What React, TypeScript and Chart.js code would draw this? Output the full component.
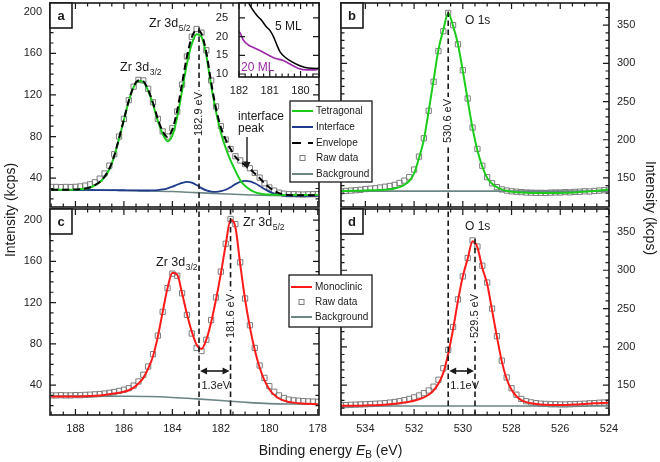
import React, { useEffect, useRef } from 'react';
import { Chart, registerables } from 'chart.js';

Chart.register(...registerables);

const W = 660;
const H = 462;
const FONT = "'Liberation Sans', Arial, Helvetica, sans-serif";
const INK = '#1a1a1a';

// ---------------- data ----------------
const zrEnergy = [
  189.0, 188.8, 188.6, 188.4, 188.2, 188.0, 187.8, 187.6, 187.4, 187.2,
  187.0, 186.8, 186.6, 186.4, 186.2, 186.0, 185.8, 185.6, 185.4, 185.2,
  185.0, 184.8, 184.6, 184.4, 184.2, 184.0, 183.8, 183.6, 183.4, 183.2,
  183.0, 182.8, 182.6, 182.4, 182.2, 182.0, 181.8, 181.6, 181.4, 181.2,
  181.0, 180.8, 180.6, 180.4, 180.2, 180.0, 179.8, 179.6, 179.4, 179.2,
  179.0, 178.8, 178.6, 178.4, 178.2, 178.0,
];
const oEnergy = [
  535.0, 534.8, 534.6, 534.4, 534.2, 534.0, 533.8, 533.6, 533.4, 533.2,
  533.0, 532.8, 532.6, 532.4, 532.2, 532.0, 531.8, 531.6, 531.4, 531.2,
  531.0, 530.8, 530.6, 530.4, 530.2, 530.0, 529.8, 529.6, 529.4, 529.2,
  529.0, 528.8, 528.6, 528.4, 528.2, 528.0, 527.8, 527.6, 527.4, 527.2,
  527.0, 526.8, 526.6, 526.4, 526.2, 526.0, 525.8, 525.6, 525.4, 525.2,
  525.0, 524.8, 524.6, 524.4, 524.2, 524.0,
];

// panel a (tetragonal Zr 3d)
const aRaw = [
  31.5, 31.5, 31.3, 31.5, 31.4, 31.6, 32, 32.8, 34, 36,
  39.5, 44.5, 52, 63, 80, 97, 115, 128, 134.5, 134,
  126, 113, 97, 85, 80, 88, 104, 130, 157, 176,
  183.5, 180, 163, 134, 109, 90, 77, 68, 61, 57,
  53.5, 49.5, 45, 40.5, 35, 31, 28, 26, 25, 24.5,
  24.5, 24.3, 24.2, 24.4, 24.5, 24.6,
];
const aTetragonal = [
  28.8, 28.8, 28.8, 28.8, 28.8, 28.9, 29.2, 29.8, 31, 33,
  36, 41, 48.5, 61, 78, 96, 114, 127.5, 133.5, 132.5,
  124, 111, 95, 82.5, 75.5, 81, 99, 124, 150, 169,
  178.5, 176, 158, 129, 104, 84, 69, 57, 47, 38,
  32.5, 29, 26.5, 25.2, 24.5, 24.2, 24, 23.9, 23.8, 23.8,
  23.7, 23.7, 23.7, 23.7, 23.7, 23.7,
];
const aInterface = [
  28.6, 28.6, 28.6, 28.6, 28.6, 28.6, 28.6, 28.6, 28.6, 28.5,
  28.5, 28.5, 28.4, 28.4, 28.3, 28.3, 28.2, 28.2, 28.1, 28.1,
  28.1, 28.2, 28.5, 29.1, 30.2, 31.8, 33.7, 35.4, 36.3, 35.6,
  33.3, 30.4, 28.2, 27.1, 26.8, 27.4, 28.8, 31.2, 34.2, 36.4,
  37.3, 36.8, 35, 32.5, 29.5, 27, 25, 23.8, 23.2, 23,
  22.9, 22.9, 22.9, 22.9, 22.9, 22.9,
];
const aEnvelope = [
  28.9, 28.9, 28.9, 28.9, 28.9, 29, 29.3, 29.9, 31.1, 33.2,
  36.3, 41.3, 49, 61.5, 78.5, 96.5, 114.5, 128, 134, 133,
  125, 112.5, 97, 85, 79.5, 87, 105, 131, 157, 175.5,
  182.5, 179, 161, 132, 107, 89, 77, 68, 60.5, 56,
  52.5, 49, 44.5, 40, 35, 31, 27.8, 25.5, 24.3, 23.8,
  23.6, 23.5, 23.5, 23.5, 23.5, 23.5,
];
const aBgEnergy = [189, 187, 186, 185, 184, 183, 182, 181, 180, 179, 178];
const aBackground = [28.5, 28.3, 28.1, 27.7, 27.1, 26.0, 25.0, 24.0, 23.3, 23.0, 22.9];

// panel c (monoclinic Zr 3d)
const cRaw = [
  30, 30, 30.2, 30, 30, 30.3, 30.2, 30.5, 30.7, 31,
  31.3, 31.8, 32.5, 33.3, 34.3, 35.5, 37, 39.5, 43.5, 50,
  58, 70, 88, 111, 134, 148, 146, 129, 108, 90,
  76, 73, 84, 103, 125, 150, 177, 201, 196, 159,
  124, 98, 76, 59, 47, 39, 33.5, 30, 27.5, 26,
  25.2, 24.8, 24.4, 24.2, 24, 23.8,
];
const cMonoclinic = [
  29, 29, 29, 29, 29, 29, 29, 29.1, 29.3, 29.6,
  30, 30.5, 31.1, 31.8, 32.6, 33.6, 35, 37.5, 41.5, 47,
  56, 68, 87, 111, 134, 149, 147, 129, 109, 92,
  79, 75, 84, 101, 123, 148, 176, 200, 193, 157,
  123, 96, 74, 57, 44.5, 36, 30.5, 27, 25, 23.7,
  23, 22.5, 22.1, 21.8, 21.6, 21.5,
];
const cBgEnergy = [189, 187, 186, 185, 184, 183, 182, 181, 180, 179, 178];
const cBackground = [29.3, 29.3, 29.2, 28.9, 28.0, 26.6, 25.0, 23.3, 22.0, 21.6, 21.4];

// panel b (tetragonal O 1s)
const bRaw = [
  132.5, 133, 133.5, 134, 134.5, 135.5, 136, 136.5, 137.5, 138.5,
  139.5, 141, 143.5, 146.5, 151, 161, 178, 202, 238, 276,
  316, 342, 366, 350, 325, 291, 254, 216, 188, 166,
  151, 143, 138, 135, 133.5, 132.5, 132, 131.5, 131, 130.8,
  130.5, 130.6, 130.4, 130.8, 131, 131, 131.5, 131.2, 131.8, 132,
  132.5, 132.3, 133, 133.5, 134, 134.5,
];
const bTetragonal = [
  133, 133.1, 133.2, 133.3, 133.4, 133.6, 133.8, 134, 134.3, 134.7,
  135.3, 136.3, 138, 141, 146, 156, 176, 200, 238, 278,
  318, 344, 366, 349, 325, 290, 252, 215, 186, 165,
  150, 142.5, 138, 135, 133.2, 132, 131.3, 130.9, 130.6, 130.4,
  130.3, 130.2, 130.2, 130.2, 130.3, 130.4, 130.6, 130.8, 131.1, 131.5,
  132, 132.5, 133, 133.6, 134.2, 134.8,
];
const bBgEnergy = [535, 524];
const bBackground = [132.8, 132.8];

// panel d (monoclinic O 1s)
const dRaw = [
  124, 124, 124.3, 124.5, 124.8, 125, 125.3, 125.7, 126, 126.5,
  127.2, 128, 129, 130.3, 132, 134, 136.5, 139.5, 143, 148,
  157, 172, 196, 226, 262, 292, 316, 339, 331, 306,
  284, 250, 214, 182, 160, 146, 137.5, 132, 129, 127.5,
  126.5, 125.8, 125.5, 125, 125, 124.8, 124.8, 125, 125.3, 125.5,
  125.8, 126.3, 126.5, 127, 127.3, 127.5,
];
const dMonoclinic = [
  123, 123, 123, 123.1, 123.2, 123.4, 123.6, 123.8, 124.1, 124.5,
  125, 125.6, 126.3, 127.2, 128.3, 129.6, 131.5, 134, 137.5, 143,
  152, 166, 191, 223, 260, 292, 315, 338, 330, 303,
  282, 248, 213, 181, 158, 144, 135.5, 130.5, 127.8, 126.3,
  125.4, 124.8, 124.4, 124.2, 124.1, 124, 124.1, 124.3, 124.6, 125,
  125.4, 125.8, 126.2, 126.5, 126.8, 127,
];
const dBgEnergy = [535, 524];
const dBackground = [122.8, 122.8];

// inset (interface region)
const inset5Energy = [181.8, 181.73, 181.59, 181.43, 181.26, 181.12, 180.99, 180.88, 180.77, 180.67, 180.5, 180.29, 180.02, 179.75, 179.47, 179.37];
const inset5ML = [31.5, 29.8, 27.6, 25.8, 24.3, 22.7, 21.6, 20.0, 17.8, 16.0, 14.5, 13.3, 12.2, 11.6, 11.5, 11.7];
const inset20Energy = [182.05, 181.97, 181.86, 181.7, 181.48, 181.26, 181.05, 180.83, 180.56, 180.29, 180.07, 179.8, 179.53, 179.37];
const inset20ML = [21.6, 21.1, 19.1, 17.8, 16.9, 16.0, 15.1, 14.2, 13.6, 12.4, 11.5, 11.1, 11.1, 11.5];

// ticks & marked energies
const zrTicks = [188, 186, 184, 182, 180, 178];
const oTicks = [534, 532, 530, 528, 526, 524];
const zrIntensityTicks = [40, 80, 120, 160, 200];
const oIntensityTicks = [150, 200, 250, 300, 350];
const insetXTicks = [182, 181, 180];
const insetYTicks = [10, 15, 20, 25];
const zrTetragonalPeak = 182.9;
const zrMonoclinicPeak = 181.6;
const oTetragonalPeak = 530.6;
const oMonoclinicPeak = 529.5;

// ---------------- styles ----------------
const GREEN = '#1ccc1c';
const NAVY = '#1e3a8c';
const BGC = '#6b8585';
const RED = '#ff1a1a';
const RAWC = '#7d7d7d';
const PURPLE = '#9a2aa8';

function pts(xs: number[], ys: number[]) {
  return xs.map((x, i) => ({ x, y: ys[i] }));
}

function lineDs(label: string, xs: number[], ys: number[], color: string, width: number, dash?: number[]) {
  return {
    label,
    data: pts(xs, ys),
    borderColor: color,
    backgroundColor: color,
    borderWidth: width,
    borderDash: dash || [],
    pointRadius: 0,
    fill: false,
    cubicInterpolationMode: 'monotone',
  };
}

function rawDs(label: string, xs: number[], ys: number[]) {
  return {
    label,
    data: pts(xs, ys),
    showLine: false,
    pointStyle: 'rect',
    pointRadius: 3.7,
    pointBorderWidth: 1,
    pointBorderColor: RAWC,
    pointBackgroundColor: 'rgba(255,255,255,0)',
    borderColor: RAWC,
    backgroundColor: 'rgba(255,255,255,0)',
  };
}

// ---------------- drawing helpers ----------------
function frameTicks(chart: any, xMinor: number, xMajor: number, yMinor: number, yMajor: number) {
  const { ctx, chartArea: a } = chart;
  const xs = chart.scales.x;
  const ys = chart.scales.y;
  ctx.save();
  ctx.strokeStyle = INK;
  ctx.lineWidth = 1.2;
  ctx.setLineDash([]);
  ctx.beginPath();
  for (let k = Math.ceil(xs.min / xMinor - 1e-6); k * xMinor <= xs.max + 1e-6; k++) {
    const v = k * xMinor;
    const p = xs.getPixelForValue(v);
    const major = Math.abs(v / xMajor - Math.round(v / xMajor)) < 1e-6;
    const len = major ? 6 : 3.5;
    ctx.moveTo(p, a.bottom);
    ctx.lineTo(p, a.bottom - len);
    ctx.moveTo(p, a.top);
    ctx.lineTo(p, a.top + len);
  }
  for (let k = Math.ceil(ys.min / yMinor - 1e-6); k * yMinor <= ys.max + 1e-6; k++) {
    const v = k * yMinor;
    const p = ys.getPixelForValue(v);
    const major = Math.abs(v / yMajor - Math.round(v / yMajor)) < 1e-6;
    const len = major ? 6 : 3.5;
    ctx.moveTo(a.left, p);
    ctx.lineTo(a.left + len, p);
    ctx.moveTo(a.right, p);
    ctx.lineTo(a.right - len, p);
  }
  ctx.stroke();
  ctx.lineWidth = 1.6;
  ctx.strokeRect(a.left, a.top, a.right - a.left, a.bottom - a.top);
  ctx.restore();
}

function vDash(ctx: CanvasRenderingContext2D, x: number, y1: number, y2: number, gap?: [number, number]) {
  ctx.save();
  ctx.strokeStyle = INK;
  ctx.lineWidth = 1.6;
  ctx.setLineDash([5.5, 3.5]);
  ctx.beginPath();
  if (gap) {
    ctx.moveTo(x, y1);
    ctx.lineTo(x, gap[0]);
    ctx.moveTo(x, y2);
    ctx.lineTo(x, gap[1]);
  } else {
    ctx.moveTo(x, y2);
    ctx.lineTo(x, y1);
  }
  ctx.stroke();
  ctx.restore();
}

function vLabel(ctx: CanvasRenderingContext2D, text: string, x: number, cy: number, size: number, angle = -Math.PI / 2) {
  ctx.save();
  ctx.translate(x, cy);
  ctx.rotate(angle);
  ctx.font = `${size}px ${FONT}`;
  ctx.fillStyle = INK;
  ctx.textAlign = 'center';
  ctx.textBaseline = 'middle';
  ctx.fillText(text, 0, 0);
  ctx.restore();
}

function txt(ctx: CanvasRenderingContext2D, text: string, x: number, y: number, size: number, align: CanvasTextAlign = 'left', color = INK, weight = '') {
  ctx.save();
  ctx.font = `${weight} ${size}px ${FONT}`.trim();
  ctx.fillStyle = color;
  ctx.textAlign = align;
  ctx.textBaseline = 'alphabetic';
  ctx.fillText(text, x, y);
  ctx.restore();
}

function subText(ctx: CanvasRenderingContext2D, x: number, y: number, main: string, sub: string) {
  ctx.save();
  ctx.fillStyle = INK;
  ctx.textAlign = 'left';
  ctx.textBaseline = 'alphabetic';
  ctx.font = `12.5px ${FONT}`;
  ctx.fillText(main, x, y);
  const w = ctx.measureText(main).width;
  ctx.font = `8.5px ${FONT}`;
  ctx.fillText(sub, x + w + 0.5, y + 3.5);
  ctx.restore();
}

function head(ctx: CanvasRenderingContext2D, x: number, y: number, dx: number, dy: number) {
  const len = 7;
  const half = 3.5;
  const bx = x - dx * len;
  const by = y - dy * len;
  ctx.beginPath();
  ctx.moveTo(x, y);
  ctx.lineTo(bx - dy * half, by + dx * half);
  ctx.lineTo(bx + dy * half, by - dx * half);
  ctx.closePath();
  ctx.fill();
}

function doubleArrow(ctx: CanvasRenderingContext2D, x1: number, x2: number, y: number) {
  ctx.save();
  ctx.strokeStyle = INK;
  ctx.fillStyle = INK;
  ctx.lineWidth = 1.6;
  ctx.setLineDash([]);
  const l = Math.min(x1, x2) + 1;
  const r = Math.max(x1, x2) - 1;
  ctx.beginPath();
  ctx.moveTo(l + 5, y);
  ctx.lineTo(r - 5, y);
  ctx.stroke();
  head(ctx, l, y, -1, 0);
  head(ctx, r, y, 1, 0);
  ctx.restore();
}

function downArrow(ctx: CanvasRenderingContext2D, x: number, y1: number, y2: number) {
  ctx.save();
  ctx.strokeStyle = INK;
  ctx.fillStyle = INK;
  ctx.lineWidth = 1.4;
  ctx.beginPath();
  ctx.moveTo(x, y1);
  ctx.lineTo(x, y2 - 6);
  ctx.stroke();
  head(ctx, x, y2, 0, 1);
  ctx.restore();
}

function panelTag(ctx: CanvasRenderingContext2D, x: number, y: number, letter: string) {
  ctx.save();
  ctx.fillStyle = '#fff';
  ctx.fillRect(x, y, 22, 25);
  ctx.strokeStyle = INK;
  ctx.lineWidth = 1.6;
  ctx.strokeRect(x, y, 22, 25);
  ctx.fillStyle = INK;
  ctx.font = `bold 13px ${FONT}`;
  ctx.textAlign = 'center';
  ctx.textBaseline = 'middle';
  ctx.fillText(letter, x + 11, y + 13);
  ctx.restore();
}

type LegRow = { kind: 'line' | 'dash' | 'square'; color: string; text: string; y: number };

function legendBox(ctx: CanvasRenderingContext2D, x: number, y: number, w: number, h: number, rows: LegRow[]) {
  ctx.save();
  ctx.fillStyle = '#fff';
  ctx.fillRect(x, y, w, h);
  ctx.strokeStyle = INK;
  ctx.lineWidth = 1.3;
  ctx.strokeRect(x, y, w, h);
  for (const r of rows) {
    const yy = y + r.y;
    ctx.setLineDash([]);
    if (r.kind === 'line') {
      ctx.strokeStyle = r.color;
      ctx.lineWidth = 2;
      ctx.beginPath();
      ctx.moveTo(x + 2, yy);
      ctx.lineTo(x + 23, yy);
      ctx.stroke();
    } else if (r.kind === 'dash') {
      ctx.strokeStyle = r.color;
      ctx.lineWidth = 2;
      ctx.beginPath();
      ctx.moveTo(x + 2, yy);
      ctx.lineTo(x + 11, yy);
      ctx.moveTo(x + 18, yy);
      ctx.lineTo(x + 23, yy);
      ctx.stroke();
    } else {
      ctx.strokeStyle = r.color;
      ctx.lineWidth = 1;
      ctx.strokeRect(x + 10, yy - 2.5, 5, 5);
    }
    ctx.fillStyle = INK;
    ctx.font = `10px ${FONT}`;
    ctx.textAlign = 'left';
    ctx.textBaseline = 'middle';
    ctx.fillText(r.text, x + 26, yy + 0.5);
  }
  ctx.restore();
}

function axisTitles(ctx: CanvasRenderingContext2D) {
  vLabel(ctx, 'Intensity (kcps)', 11, 210, 14, -Math.PI / 2);
  vLabel(ctx, 'Intensity (kcps)', 650, 208, 14, Math.PI / 2);
  const parts = [
    { t: 'Binding energy ', f: `14px ${FONT}`, dy: 0 },
    { t: 'E', f: `italic 14px ${FONT}`, dy: 0 },
    { t: 'B', f: `10px ${FONT}`, dy: 3 },
    { t: ' (eV)', f: `14px ${FONT}`, dy: 0 },
  ];
  ctx.save();
  ctx.fillStyle = INK;
  ctx.textAlign = 'left';
  ctx.textBaseline = 'alphabetic';
  let total = 0;
  for (const p of parts) {
    ctx.font = p.f;
    total += ctx.measureText(p.t).width;
  }
  let x = 330.5 - total / 2;
  for (const p of parts) {
    ctx.font = p.f;
    ctx.fillText(p.t, x, 455 + p.dy);
    x += ctx.measureText(p.t).width;
  }
  ctx.restore();
}

// ---------------- panel factory ----------------
type PanelSpec = {
  area: { l: number; t: number; r: number; b: number };
  x: { min: number; max: number; ticks: number[]; show: boolean; pad: number };
  y: { min: number; max: number; ticks: number[]; pos: 'left' | 'right'; pad: number };
  datasets: any[];
  before?: (chart: any) => void;
  draw: (chart: any) => void;
};

function makePanel(canvas: HTMLCanvasElement, s: PanelSpec) {
  const yW = s.y.pos === 'left' ? s.area.l : W - s.area.r;
  const xH = s.x.show ? H - s.area.b : 0;
  const padding = {
    left: s.y.pos === 'left' ? 0 : s.area.l,
    right: s.y.pos === 'right' ? 0 : W - s.area.r,
    top: s.area.t,
    bottom: s.x.show ? 0 : H - s.area.b,
  };
  const tickFont = { size: 11, family: FONT };
  return new Chart(canvas, {
    type: 'line',
    data: { datasets: s.datasets },
    options: {
      responsive: false,
      animation: false,
      events: [],
      layout: { padding, autoPadding: false },
      plugins: { legend: { display: false }, tooltip: { enabled: false } },
      scales: {
        x: {
          type: 'linear',
          reverse: true,
          min: s.x.min,
          max: s.x.max,
          display: s.x.show,
          position: 'bottom',
          grid: { display: false, drawTicks: false, tickLength: 0 },
          border: { display: false },
          ticks: { autoSkip: false, maxRotation: 0, padding: s.x.pad, color: '#222', font: tickFont },
          afterBuildTicks: (sc: any) => {
            sc.ticks = s.x.ticks.map((v) => ({ value: v }));
          },
          afterFit: (sc: any) => {
            sc.height = xH;
            sc.paddingLeft = 0;
            sc.paddingRight = 0;
            sc.paddingTop = 0;
            sc.paddingBottom = 0;
          },
        },
        y: {
          type: 'linear',
          min: s.y.min,
          max: s.y.max,
          position: s.y.pos,
          grid: { display: false, drawTicks: false, tickLength: 0 },
          border: { display: false },
          ticks: { autoSkip: false, padding: s.y.pad, color: '#222', font: tickFont },
          afterBuildTicks: (sc: any) => {
            sc.ticks = s.y.ticks.map((v) => ({ value: v }));
          },
          afterFit: (sc: any) => {
            sc.width = yW;
            sc.paddingLeft = 0;
            sc.paddingRight = 0;
            sc.paddingTop = 0;
            sc.paddingBottom = 0;
          },
        },
      },
    } as any,
    plugins: [
      {
        id: 'decor',
        beforeDatasetsDraw: (c: any) => {
          if (s.before) s.before(c);
        },
        afterDraw: (c: any) => s.draw(c),
      },
    ],
  } as any);
}

// ---------------- panel specs ----------------
function specA(): PanelSpec {
  return {
    area: { l: 50, t: 3, r: 319, b: 207 },
    x: { min: 177.95, max: 189.05, ticks: zrTicks, show: false, pad: 7 },
    y: { min: 12.2, max: 208.5, ticks: zrIntensityTicks, pos: 'left', pad: 8 },
    datasets: [
      lineDs('Envelope', zrEnergy, aEnvelope, '#000', 2, [7, 4]),
      lineDs('Tetragonal', zrEnergy, aTetragonal, GREEN, 2),
      lineDs('Interface', zrEnergy, aInterface, NAVY, 1.8),
      lineDs('Background', aBgEnergy, aBackground, BGC, 1.6),
      rawDs('Raw data', zrEnergy, aRaw),
    ],
    draw: (c) => {
      const ctx = c.ctx as CanvasRenderingContext2D;
      const xs = c.scales.x;
      const ys = c.scales.y;
      const a = c.chartArea;
      frameTicks(c, 0.5, 2, 10, 40);
      const px = xs.getPixelForValue(zrTetragonalPeak);
      vDash(ctx, px, ys.getPixelForValue(185), a.bottom, [91, 137]);
      vLabel(ctx, '182.9 eV', px, 114, 11);
      subText(ctx, 120, 71, 'Zr 3d', '3/2');
      subText(ctx, 149, 27, 'Zr 3d', '5/2');
      txt(ctx, 'interface', 238, 120, 12);
      txt(ctx, 'peak', 238, 132, 12);
      downArrow(ctx, 247, 137, 169);
      panelTag(ctx, a.left, a.top, 'a');
      legendBox(ctx, 290, 101, 82, 81, [
        { kind: 'line', color: GREEN, text: 'Tetragonal', y: 10 },
        { kind: 'line', color: NAVY, text: 'Interface', y: 26 },
        { kind: 'dash', color: '#000', text: 'Envelope', y: 42 },
        { kind: 'square', color: RAWC, text: 'Raw data', y: 57 },
        { kind: 'line', color: BGC, text: 'Background', y: 73 },
      ]);
    },
  };
}

function specB(): PanelSpec {
  return {
    area: { l: 341, t: 3, r: 609, b: 207 },
    x: { min: 524, max: 535, ticks: oTicks, show: false, pad: 7 },
    y: { min: 112, max: 379, ticks: oIntensityTicks, pos: 'right', pad: 8 },
    datasets: [
      lineDs('Tetragonal', oEnergy, bTetragonal, GREEN, 2),
      lineDs('Background', bBgEnergy, bBackground, BGC, 1.6),
      rawDs('Raw data', oEnergy, bRaw),
    ],
    draw: (c) => {
      const ctx = c.ctx as CanvasRenderingContext2D;
      const xs = c.scales.x;
      const ys = c.scales.y;
      const a = c.chartArea;
      frameTicks(c, 0.5, 2, 10, 50);
      const px = xs.getPixelForValue(oTetragonalPeak);
      vDash(ctx, px, ys.getPixelForValue(368), a.bottom, [97, 145]);
      vLabel(ctx, '530.6 eV', px, 121, 11);
      txt(ctx, 'O 1s', 465, 24, 12);
      panelTag(ctx, a.left, a.top, 'b');
    },
  };
}

function specC(): PanelSpec {
  return {
    area: { l: 50, t: 209, r: 319, b: 415 },
    x: { min: 177.95, max: 189.05, ticks: zrTicks, show: true, pad: 7 },
    y: { min: 11, max: 210.7, ticks: zrIntensityTicks, pos: 'left', pad: 8 },
    datasets: [
      lineDs('Monoclinic', zrEnergy, cMonoclinic, RED, 2),
      lineDs('Background', cBgEnergy, cBackground, BGC, 1.6),
      rawDs('Raw data', zrEnergy, cRaw),
    ],
    draw: (c) => {
      const ctx = c.ctx as CanvasRenderingContext2D;
      const xs = c.scales.x;
      const a = c.chartArea;
      frameTicks(c, 0.5, 2, 10, 40);
      const p1 = xs.getPixelForValue(zrTetragonalPeak);
      const p2 = xs.getPixelForValue(zrMonoclinicPeak);
      vDash(ctx, p1, a.top, a.bottom);
      vDash(ctx, p2, a.top, a.bottom, [291, 341]);
      vLabel(ctx, '181.6 eV', p2, 316, 11);
      doubleArrow(ctx, p1, p2, 371);
      txt(ctx, '1.3eV', (p1 + p2) / 2 + 1, 389, 11, 'center');
      subText(ctx, 156, 266, 'Zr 3d', '3/2');
      subText(ctx, 243, 226, 'Zr 3d', '5/2');
      panelTag(ctx, a.left, a.top, 'c');
      legendBox(ctx, 289, 275, 83, 52, [
        { kind: 'line', color: RED, text: 'Monoclinic', y: 12 },
        { kind: 'square', color: RAWC, text: 'Raw data', y: 27 },
        { kind: 'line', color: BGC, text: 'Background', y: 42 },
      ]);
      axisTitles(ctx);
    },
  };
}

function specD(): PanelSpec {
  return {
    area: { l: 341, t: 209, r: 609, b: 415 },
    x: { min: 524, max: 535, ticks: oTicks, show: true, pad: 7 },
    y: { min: 111, max: 380, ticks: oIntensityTicks, pos: 'right', pad: 8 },
    datasets: [
      lineDs('Monoclinic', oEnergy, dMonoclinic, RED, 2),
      lineDs('Background', dBgEnergy, dBackground, BGC, 1.6),
      rawDs('Raw data', oEnergy, dRaw),
    ],
    draw: (c) => {
      const ctx = c.ctx as CanvasRenderingContext2D;
      const xs = c.scales.x;
      const ys = c.scales.y;
      const a = c.chartArea;
      frameTicks(c, 0.5, 2, 10, 50);
      const p1 = xs.getPixelForValue(oTetragonalPeak);
      const p2 = xs.getPixelForValue(oMonoclinicPeak);
      vDash(ctx, p1, a.top, a.bottom);
      vDash(ctx, p2, ys.getPixelForValue(341), a.bottom, [291, 341]);
      vLabel(ctx, '529.5 eV', p2, 316, 11);
      doubleArrow(ctx, p1, p2, 371);
      txt(ctx, '1.1eV', (p1 + p2) / 2 + 3, 389, 11, 'center');
      txt(ctx, 'O 1s', 465, 230, 12);
      panelTag(ctx, a.left, a.top, 'd');
    },
  };
}

function specInset(): PanelSpec {
  return {
    area: { l: 239, t: 3, r: 319, b: 77 },
    x: { min: 179.4, max: 182, ticks: insetXTicks, show: true, pad: 7 },
    y: { min: 9.2, max: 29, ticks: insetYTicks, pos: 'left', pad: 11 },
    datasets: [
      lineDs('5 ML', inset5Energy, inset5ML, '#000', 1.5),
      lineDs('20 ML', inset20Energy, inset20ML, PURPLE, 1.6),
    ],
    before: (c) => {
      const a = c.chartArea;
      c.ctx.save();
      c.ctx.fillStyle = '#fff';
      c.ctx.fillRect(a.left, a.top, a.right - a.left, a.bottom - a.top);
      c.ctx.restore();
    },
    draw: (c) => {
      const ctx = c.ctx as CanvasRenderingContext2D;
      frameTicks(c, 0.2, 1, 5, 5);
      txt(ctx, '5 ML', 275, 30, 12);
      txt(ctx, '20 ML', 241, 71, 12, 'left', PURPLE);
    },
  };
}

export default function App() {
  const r0 = useRef<HTMLCanvasElement>(null);
  const r1 = useRef<HTMLCanvasElement>(null);
  const r2 = useRef<HTMLCanvasElement>(null);
  const r3 = useRef<HTMLCanvasElement>(null);
  const r4 = useRef<HTMLCanvasElement>(null);
  const refs = [r0, r1, r2, r3, r4];

  useEffect(() => {
    Chart.defaults.font.family = FONT;
    const charts = [
      makePanel(r0.current!, specB()),
      makePanel(r1.current!, specD()),
      makePanel(r2.current!, specA()),
      makePanel(r3.current!, specC()),
      makePanel(r4.current!, specInset()),
    ];
    return () => charts.forEach((ch) => ch.destroy());
  }, []);

  return (
    <div style={{ position: 'fixed', left: 0, top: 0, width: W, height: H, background: '#fff', overflow: 'hidden' }}>
      {refs.map((r, i) => (
        <canvas
          key={i}
          ref={r}
          width={W}
          height={H}
          style={{ position: 'absolute', left: 0, top: 0, width: W, height: H }}
        />
      ))}
    </div>
  );
}
